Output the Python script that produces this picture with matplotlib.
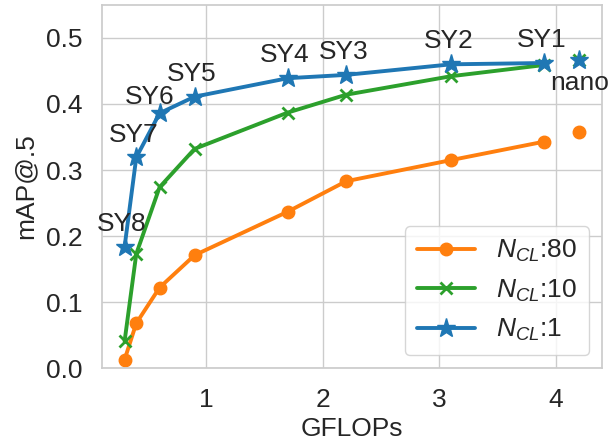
import matplotlib
matplotlib.use('Agg')
import matplotlib.pyplot as plt
import seaborn as sns

# GFLOPs for SY8 ... SY1, plus the separate "nano" model
gflops = [0.3, 0.4, 0.6, 0.9, 1.7, 2.2, 3.1, 3.9]
nano_gflops = 4.2
names = ['SY8', 'SY7', 'SY6', 'SY5', 'SY4', 'SY3', 'SY2', 'SY1']

map_ncl80 = [0.013, 0.068, 0.122, 0.171, 0.237, 0.283, 0.315, 0.343]
map_ncl10 = [0.041, 0.173, 0.274, 0.332, 0.387, 0.414, 0.442, 0.459]
map_ncl1 = [0.184, 0.319, 0.386, 0.411, 0.439, 0.444, 0.460, 0.462]
nano_map = {'80': 0.358, '10': 0.467, '1': 0.467}

sns.set_theme(style='whitegrid')
plt.rcParams['font.family'] = ['Liberation Sans', 'DejaVu Sans']
plt.rcParams['mathtext.fontset'] = 'custom'
plt.rcParams['mathtext.rm'] = 'Liberation Sans'
plt.rcParams['mathtext.it'] = 'Liberation Sans:italic'

fs = 19
fig, ax = plt.subplots(figsize=(6.1, 4.42), dpi=100)
fig.subplots_adjust(left=0.167, right=0.987, top=0.989, bottom=0.167)

orange, green, blue = '#ff7f0e', '#2ca02c', '#1f77b4'

ax.plot(gflops, map_ncl80, '-o', color=orange, lw=2.8, ms=9, label='$N_{CL}$:80')
ax.plot(gflops, map_ncl10, '-x', color=green, lw=2.8, ms=9, mew=2, label='$N_{CL}$:10')
ax.plot(gflops, map_ncl1, '-*', color=blue, lw=2.8, ms=14, label='$N_{CL}$:1')

ax.plot([nano_gflops], [nano_map['80']], 'o', color=orange, ms=9)
ax.plot([nano_gflops], [nano_map['10']], 'x', color=green, ms=8, mew=2)
ax.plot([nano_gflops], [nano_map['1']], '*', color=blue, ms=14)

for name, x, y in zip(names, gflops, map_ncl1):
    off = (-7, 12) if name == 'SY6' else (-2, 16.5)
    ax.annotate(name, (x, y), xytext=off, textcoords='offset points',
                ha='center', va='center', fontsize=fs, color='#262626')
ax.annotate('nano', (nano_gflops, nano_map['1']), xytext=(0, -16.5),
            textcoords='offset points', ha='center', va='center',
            fontsize=fs, color='#262626')

ax.set_ylim(0, 0.55)
ax.set_xticks([1, 2, 3, 4])
ax.set_yticks([0.0, 0.1, 0.2, 0.3, 0.4, 0.5])
ax.tick_params(labelsize=fs, pad=8)
ax.set_xlabel('GFLOPs', fontsize=fs, labelpad=4)
ax.set_ylabel('mAP@.5', fontsize=fs, labelpad=6)
ax.legend(loc='lower right', fontsize=fs, handlelength=2.2, borderpad=0.45,
          labelspacing=0.5)

plt.savefig('out.png', dpi=100)
plt.close()
